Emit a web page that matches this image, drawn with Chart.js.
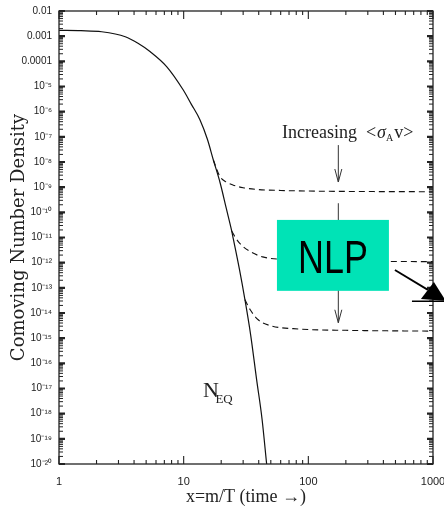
<!DOCTYPE html>
<html>
<head>
<meta charset="utf-8">
<script src="https://cdn.jsdelivr.net/npm/chart.js@4"></script>
<style>
  html, body { margin: 0; padding: 0; background: #fff; }
</style>
</head>
<body>
<canvas id="chart" width="444" height="514"></canvas>
<script>
// equilibrium abundance N_EQ
var eqX = [1, 1.5, 2.2, 3.4, 4.3, 5.4, 7.3, 9.9, 11.5, 13.5, 15.5, 17.3, 19.6, 22, 24.3, 25, 28, 31, 34.5, 38.5, 42.5, 46.3];
var eqY = [1.7e-3, 1.65e-3, 1.5e-3, 9.5e-4, 5.2e-4, 2.4e-4, 6.2e-5, 7.4e-6, 2.0e-6, 4.8e-7, 8e-8, 1.2e-8, 1.5e-9, 1.4e-10, 1.8e-11, 9e-12, 5.5e-13, 3.4e-14, 1.3e-15, 2.2e-17, 6.3e-19, 1e-20];

// freeze-out curves, smallest to largest cross section
var topX = [17.3, 19.5, 22, 25, 30, 40, 60, 100, 300, 1000];
var topY = [1.2e-8, 2.7e-9, 1.6e-9, 1.2e-9, 9.5e-10, 8e-10, 7.4e-10, 7e-10, 6.7e-10, 6.6e-10];
var midX = [24.3, 26, 28.3, 34, 43, 70, 150, 1000];
var midY = [1.8e-11, 1.0e-11, 5.7e-12, 2.8e-12, 1.7e-12, 1.3e-12, 1.15e-12, 1.1e-12];
var lowX = [31, 34, 39.4, 49, 86, 200, 1000];
var lowY = [3.4e-14, 1.4e-14, 5.5e-15, 3.2e-15, 2.3e-15, 2.05e-15, 1.9e-15];

// axis ticks
var xDecades = [0, 1, 2, 3];
var yDecades = [-20, -19, -18, -17, -16, -15, -14, -13, -12, -11, -10, -9, -8, -7, -6, -5, -4, -3, -2];
var yPlainLabels = { '-2': '0.01', '-3': '0.001', '-4': '0.0001' };

function zip(xs, ys) {
    return xs.map(function (x, i) { return { x: x, y: ys[i] }; });
}

function logTicks(decades) {
    var out = [];
    decades.forEach(function (e, i) {
        var last = i === decades.length - 1;
        for (var k = 1; k <= (last ? 1 : 9); k++) out.push(k * Math.pow(10, e));
    });
    return out;
}

function isDecade(v) {
    var l = Math.log10(v);
    return Math.abs(l - Math.round(l)) < 1e-9;
}

function sup(n) {
    var map = { '-': '\u207B', '0': '\u2070', '1': '\u00B9', '2': '\u00B2', '3': '\u00B3', '4': '\u2074',
                '5': '\u2075', '6': '\u2076', '7': '\u2077', '8': '\u2078', '9': '\u2079' };
    return String(n).split('').map(function (c) { return map[c]; }).join('');
}

var xTicks = logTicks(xDecades);
var yTicks = logTicks(yDecades);

// frame, inward ticks and slide annotations
var decorations = {
    id: 'decorations',
    afterDatasetsDraw: function (chart) {
        var ctx = chart.ctx, a = chart.chartArea;
        var xs = chart.scales.x, ys = chart.scales.y;
        var X = function (v) { return xs.getPixelForValue(v); };
        var Y = function (v) { return ys.getPixelForValue(v); };

        ctx.save();
        ctx.strokeStyle = '#222';
        ctx.lineWidth = 1.3;
        ctx.strokeRect(a.left, a.top, a.right - a.left, a.bottom - a.top);

        xTicks.forEach(function (v) {
            var p = X(v), len = isDecade(v) ? 8 : 4;
            ctx.lineWidth = 1.1;
            ctx.beginPath();
            ctx.moveTo(p, a.bottom); ctx.lineTo(p, a.bottom - len);
            ctx.moveTo(p, a.top); ctx.lineTo(p, a.top + len);
            ctx.stroke();
        });
        yTicks.forEach(function (v) {
            var p = Y(v), major = isDecade(v), len = major ? 6 : 4;
            ctx.lineWidth = major ? 2.2 : 1;
            ctx.beginPath();
            ctx.moveTo(a.left, p); ctx.lineTo(a.left + len, p);
            ctx.moveTo(a.right, p); ctx.lineTo(a.right - len, p);
            ctx.stroke();
        });

        // "Increasing <σA v>" with open arrows
        ctx.fillStyle = '#222';
        ctx.textBaseline = 'alphabetic';
        var tx = X(61.4), ty = Y(8.9e-8);
        ctx.font = '18px "Liberation Serif"';
        ctx.fillText('Increasing  <', tx, ty);
        tx += ctx.measureText('Increasing  <').width + 1;
        ctx.font = 'italic 18px "Liberation Serif"';
        ctx.fillText('\u03C3', tx, ty);
        tx += ctx.measureText('\u03C3').width;
        ctx.font = '10px "Liberation Serif"';
        ctx.fillText('A', tx, ty + 3);
        tx += ctx.measureText('A').width + 1;
        ctx.font = '18px "Liberation Serif"';
        ctx.fillText('v>', tx, ty);

        ctx.strokeStyle = '#333';
        ctx.lineWidth = 1;
        function openArrow(x, y0, y1) {
            ctx.beginPath();
            ctx.moveTo(x, y0); ctx.lineTo(x, y1);
            ctx.moveTo(x - 3.5, y1 - 13); ctx.lineTo(x, y1); ctx.lineTo(x + 3.5, y1 - 13);
            ctx.stroke();
        }
        var ax = X(174);
        openArrow(ax, Y(4.7e-8), Y(1.6e-9));
        openArrow(ax, Y(2.3e-10), Y(4.1e-15));

        // N_EQ label
        ctx.fillStyle = '#222';
        ctx.font = '22px "Liberation Serif"';
        var nx = X(14.3), ny = Y(4.4e-18);
        ctx.fillText('N', nx, ny);
        ctx.font = '13px "Liberation Serif"';
        ctx.fillText('EQ', nx + ctx.measureText('N').width + 3, ny + 6);

        // NLP box
        var bx0 = X(56), bx1 = X(443), by0 = Y(5e-11), by1 = Y(7.6e-14);
        ctx.fillStyle = '#00e3b6';
        ctx.fillRect(bx0, by0, bx1 - bx0, by1 - by0);
        ctx.fillStyle = '#000';
        ctx.save();
        ctx.translate((bx0 + bx1) / 2, by1 - 17.5);
        ctx.scale(0.78, 1);
        ctx.font = '46px "Liberation Sans"';
        ctx.textAlign = 'center';
        ctx.fillText('NLP', 0, 0);
        ctx.restore();

        // black pointer arrow
        ctx.strokeStyle = '#000';
        ctx.lineWidth = 1.8;
        ctx.beginPath();
        ctx.moveTo(X(495), Y(5.1e-13));
        ctx.lineTo(X(910), Y(8.3e-14));
        ctx.stroke();
        ctx.fillStyle = '#000';
        ctx.beginPath();
        ctx.moveTo(X(800), Y(3.6e-14));
        ctx.lineTo(X(1017), Y(1.7e-13));
        ctx.lineTo(X(1268), Y(3e-14));
        ctx.closePath();
        ctx.fill();
        ctx.lineWidth = 1.6;
        ctx.beginPath();
        ctx.moveTo(X(678), Y(2.95e-14));
        ctx.lineTo(X(1300), Y(2.95e-14));
        ctx.stroke();
        ctx.restore();
    }
};

var solid = { borderColor: '#111', borderWidth: 1.2, pointRadius: 0, fill: false, cubicInterpolationMode: 'monotone' };
var dashed = Object.assign({}, solid, { borderWidth: 1.1, borderDash: [6, 4] });

new Chart(document.getElementById('chart'), {
    type: 'line',
    data: {
        datasets: [
            Object.assign({ label: 'N_EQ', data: zip(eqX, eqY) }, solid),
            Object.assign({ label: 'small', data: zip(topX, topY) }, dashed),
            Object.assign({ label: 'medium', data: zip(midX, midY) }, dashed),
            Object.assign({ label: 'large', data: zip(lowX, lowY) }, dashed)
        ]
    },
    options: {
        responsive: false,
        animation: false,
        devicePixelRatio: 1,
        layout: { padding: { left: 0, top: 11, right: 11, bottom: 0 } },
        plugins: { legend: { display: false }, tooltip: { enabled: false } },
        scales: {
            x: {
                type: 'logarithmic',
                position: 'bottom',
                min: 1,
                max: 1000,
                afterBuildTicks: function (s) { s.ticks = xTicks.map(function (v) { return { value: v }; }); },
                afterFit: function (s) { s.height = 50; s.paddingLeft = 0; s.paddingRight = 0; },
                grid: { display: false, drawTicks: false },
                border: { display: false },
                ticks: {
                    autoSkip: false, maxRotation: 0, padding: 11, color: '#222',
                    font: { family: 'Liberation Sans', size: 11 },
                    callback: function (v) { return isDecade(v) ? String(Math.round(v)) : ''; }
                },
                title: {
                    display: true, text: 'x=m/T (time \u2192)', color: '#222',
                    font: { family: 'Liberation Serif', size: 18 },
                    padding: { top: 0, bottom: 6 }
                }
            },
            y: {
                type: 'logarithmic',
                min: 1e-20,
                max: 1e-2,
                afterBuildTicks: function (s) { s.ticks = yTicks.map(function (v) { return { value: v }; }); },
                afterFit: function (s) { s.width = 59; s.paddingTop = 0; s.paddingBottom = 0; },
                grid: { display: false, drawTicks: false },
                border: { display: false },
                ticks: {
                    autoSkip: false, padding: 7, color: '#222',
                    font: { family: 'Liberation Sans', size: 10 },
                    callback: function (v) {
                        if (!isDecade(v)) return '';
                        var e = Math.round(Math.log10(v));
                        return yPlainLabels[e] || ('10' + sup(e));
                    }
                },
                title: {
                    display: true, text: 'Comoving Number Density', color: '#222',
                    font: { family: 'DejaVu Serif', size: 18 },
                    padding: { top: 9, bottom: 0 }
                }
            }
        }
    },
    plugins: [decorations]
});
</script>
</body>
</html>
